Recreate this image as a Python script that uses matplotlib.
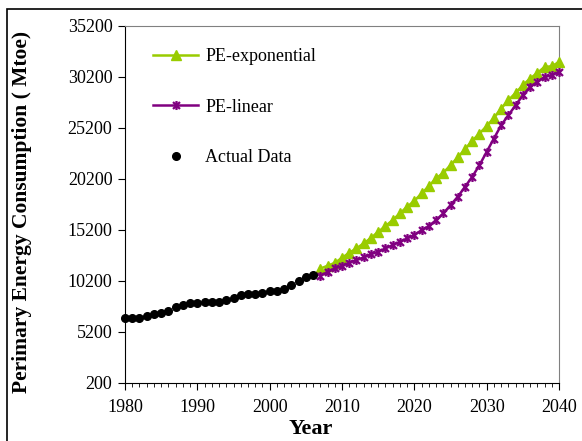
import numpy as np
import matplotlib
matplotlib.use("Agg")
import matplotlib.pyplot as plt
from matplotlib.path import Path
from matplotlib.patches import Rectangle

# data
actual_years = list(range(1980, 2007))
actual = [6500, 6500, 6500, 6700, 6900, 7060, 7260, 7650, 7820, 7980,
          7980, 8140, 8140, 8140, 8340, 8530, 8760, 8900, 8900, 9050,
          9220, 9220, 9380, 9780, 10130, 10530, 10720]

proj_years = list(range(2007, 2041))
pe_exp = [11400, 11670, 11960, 12450, 12950, 13380, 13870, 14400, 15000, 15560,
          16150, 16810, 17460, 18040, 18770, 19480, 20240, 20790, 21540, 22300,
          23110, 23930, 24650, 25370, 26180, 27100, 27920, 28630, 29390, 30040,
          30590, 31180, 31250, 31670]
pe_lin = [10660, 11080, 11420, 11640, 11960, 12230, 12490, 12820, 13040, 13380,
          13700, 14020, 14360, 14680, 15170, 15560, 16150, 16810, 17620, 18440,
          19420, 20400, 21540, 22850, 24160, 25460, 26440, 27430, 28400, 29220,
          29710, 30200, 30370, 30690]

y_ticks = [200, 5200, 10200, 15200, 20200, 25200, 30200, 35200]
x_ticks = [1980, 1990, 2000, 2010, 2020, 2030, 2040]

plt.rcParams['font.family'] = ['Liberation Serif', 'DejaVu Serif']

# excel style star marker: an x with a vertical bar
star = Path([(-1, -1), (1, 1), (-1, 1), (1, -1), (0, -1.3), (0, 1.3)],
            [Path.MOVETO, Path.LINETO, Path.MOVETO, Path.LINETO, Path.MOVETO, Path.LINETO])

fig = plt.figure(figsize=(5.82, 4.41), dpi=100)
ax = fig.add_axes([125 / 582, 1 - 382.7 / 441, 434 / 582, 356.7 / 441])

green = '#99CC00'
purple = '#800080'

ax.plot(proj_years, pe_exp, color=green, lw=1.8, marker='^', ms=7,
        mfc=green, mec=green, label='PE-exponential', clip_on=False, zorder=3)
ax.plot(proj_years, pe_lin, color=purple, lw=1.8, marker=star, ms=6.5,
        mfc='none', mec=purple, mew=1.6, label='PE-linear', clip_on=False, zorder=4)
ax.plot(actual_years, actual, ls='none', marker='o', ms=5.5, color='black',
        label='Actual Data', clip_on=False, zorder=5)

ax.set_xlim(1980, 2040)
ax.set_ylim(200, 35200)
ax.set_yticks(y_ticks)
ax.set_xticks(x_ticks)
ax.set_xticks(range(1980, 2041), minor=True)
ax.tick_params(axis='both', direction='out', labelsize=13, color='black')
ax.tick_params(axis='y', length=5, pad=4)
ax.tick_params(axis='x', which='major', length=5, pad=7)
ax.tick_params(axis='x', which='minor', length=3)

for s in ['top', 'right']:
    ax.spines[s].set_color('#808080')
for s in ['left', 'bottom']:
    ax.spines[s].set_color('black')

fig.text(22 / 582, 1 - 212 / 441, 'Perimary Energy Consumption ( Mtoe)',
         fontsize=15.5, fontweight='bold', rotation=90, ha='center', va='center')
fig.text(311 / 582, 1 - 429 / 441, 'Year', fontsize=16, fontweight='bold',
         ha='center', va='center')

ax.legend(loc='upper left', frameon=False, fontsize=13, handlelength=2.5,
          labelspacing=1.85, borderaxespad=0, bbox_to_anchor=(0.048, 0.958),
          handletextpad=0.4)

# outer border of the picture
fig.patches.append(Rectangle((7 / 582, -0.05), 1.1, 1 - 9 / 441 + 0.05,
                             transform=fig.transFigure, fill=False,
                             edgecolor='black', lw=1.2))

fig.savefig('out.png', dpi=100)
